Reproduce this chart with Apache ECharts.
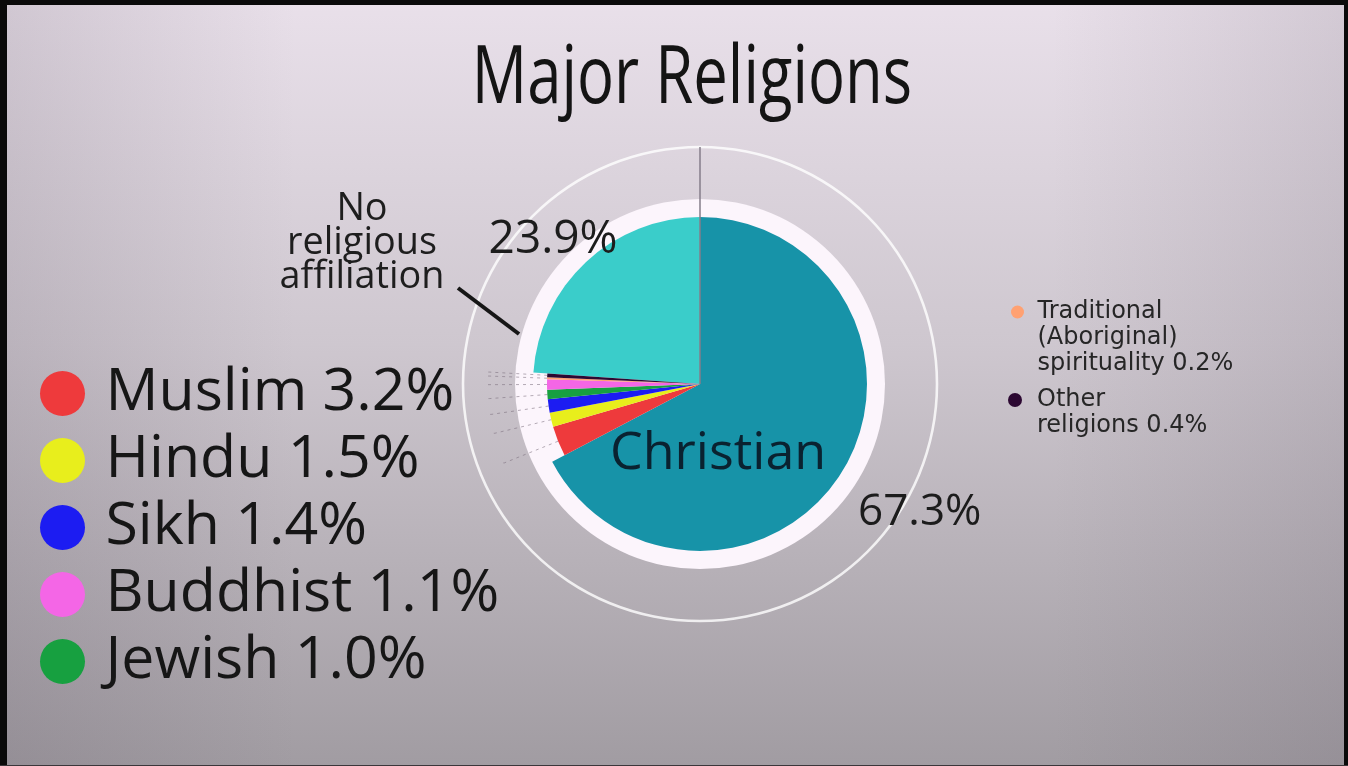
<!DOCTYPE html>
<html><head><meta charset="utf-8">
<script src="https://cdn.jsdelivr.net/npm/echarts@6/dist/echarts.min.js"></script>
<style>html,body{margin:0;padding:0;overflow:hidden;}#c{width:1348px;height:766px;}</style>
</head><body><div id="c"></div>
<script>
// ---- data ----
const categories = ['Christian','Muslim','Hindu','Sikh','Jewish','Buddhist','Traditional (Aboriginal) spirituality','Other religions','No religious affiliation'];
const shares = [67.3, 3.2, 1.5, 1.4, 1.0, 1.1, 0.2, 0.4, 23.9];
const colors = ['#1793a8','#ee3a3c','#e8ee1c','#1c1cf2','#17a040','#f466e6','#ffa172','#2c0832','#3acdca'];
const bigCategories = ['Christian','No religious affiliation'];
const leftLegendNames = ['Muslim','Hindu','Sikh','Buddhist','Jewish'];
const rightLegendNames = ['Traditional (Aboriginal) spirituality','Other religions'];
const rightLegendLines = {'Traditional (Aboriginal) spirituality':'Traditional\n(Aboriginal)\nspirituality','Other religions':'Other\nreligions'};
const titleText = 'Major Religions';
const annotationText = 'No\nreligious\naffiliation';

// ---- layout ----
const CX = 700, CY = 384, R_MAIN = 167, R_SMALL = 153, R_DISK = 185, R_RING = 237;
const TRANSPARENT = 'rgba(0,0,0,0)';
const shareOf = n => shares[categories.indexOf(n)];
const pct = v => v.toFixed(1) + '%';
const isBig = n => bigCategories.includes(n);

const chart = echarts.init(document.getElementById('c'), null, {renderer:'canvas'});

const common = {
  type:'pie', center:[CX, CY], startAngle:90, clockwise:true,
  avoidLabelOverlap:false, silent:true, animation:false,
  emphasis:{disabled:true}
};

const smallData = categories.map((n,i)=>({
  name:n, value:shares[i],
  itemStyle:{color: isBig(n) ? TRANSPARENT : colors[i], borderWidth:0},
  label:{show:!isBig(n)},
  labelLine:{show:!isBig(n)}
}));

const mainData = categories.map((n,i)=>({
  name:n, value:shares[i],
  itemStyle:{color: isBig(n) ? colors[i] : TRANSPARENT, borderWidth:0},
  label: n === 'Christian'
    ? {show:true, position:'inside', formatter:'{b}', fontFamily:'Open Sans', fontSize:52, color:'#0a2230', offset:[-56,25]}
    : {show:false},
  labelLine:{show:false}
}));

const pctOffsets = {'Christian':[43,22], 'No religious affiliation':[-6,7]};
const pctSizes = {'Christian':44, 'No religious affiliation':46};
const labelData = categories.map((n,i)=>({
  name:n, value:shares[i],
  itemStyle:{color:TRANSPARENT, borderWidth:0},
  label: isBig(n)
    ? {show:true, position:'inside', formatter: p => pct(p.value), fontFamily:'Open Sans', fontSize:pctSizes[n], color:'#1c1c1c', offset:pctOffsets[n]}
    : {show:false},
  labelLine:{show:false}
}));

// leading blank lines put the first real line level with the legend marker
const rightLegendText = (n, lead) => '\n'.repeat(lead) + rightLegendLines[n] + ' ' + pct(shareOf(n));
const rightTextStyle = {fontFamily:'DejaVu Sans', fontSize:24, lineHeight:26, color:'#262626'};

const option = {
  backgroundColor:{type:'linear', x:0, y:0, x2:0, y2:1, colorStops:[
    {offset:0, color:'#e9e0ea'}, {offset:0.45, color:'#cec7cf'}, {offset:1, color:'#a19ca2'}]},
  legend:[
    {
      data:leftLegendNames, orient:'vertical', left:40, top:364, padding:0,
      icon:'circle', itemWidth:76, itemHeight:45, itemGap:8, selectedMode:false,
      formatter: n => n + ' ' + pct(shareOf(n)),
      textStyle:{fontFamily:'Open Sans', fontSize:59, lineHeight:57, color:'#161616'}
    },
    {
      data:[rightLegendNames[0]], orient:'vertical', left:1011, top:247, padding:0,
      icon:'circle', itemWidth:30, itemHeight:13, selectedMode:false,
      formatter: n => rightLegendText(n, 2),
      textStyle:rightTextStyle
    },
    {
      data:[rightLegendNames[1]], orient:'vertical', left:1008, top:361, padding:0,
      icon:'circle', itemWidth:34, itemHeight:14, selectedMode:false,
      formatter: n => rightLegendText(n, 1),
      textStyle:rightTextStyle
    }
  ],
  series:[
    Object.assign({}, common, {
      name:'ring', radius:[R_RING-1.3, R_RING+1.3], z:1,
      data:[{name:'ring', value:1, itemStyle:{color:'rgba(255,255,255,0.8)', borderWidth:0}}],
      label:{show:false}, labelLine:{show:false}
    }),
    Object.assign({}, common, {
      name:'disk', radius:[0, R_DISK], z:1,
      data:[{name:'disk', value:1, itemStyle:{color:'#fcf5fc', borderWidth:0}}],
      label:{show:false}, labelLine:{show:false}
    }),
    Object.assign({}, common, {
      name:'small', radius:[0, R_SMALL], z:3,
      data:smallData,
      label:{position:'outside', formatter:' ', fontSize:4, color:TRANSPARENT},
      labelLine:{length:58, length2:4, smooth:false, lineStyle:{color:'rgba(120,108,122,0.55)', width:1, type:[3,4]}}
    }),
    Object.assign({}, common, {
      name:'main', radius:[0, R_MAIN], z:2,
      data:mainData
    }),
    Object.assign({}, common, {
      name:'labels', radius:[R_MAIN, 240], z:4,
      data:labelData
    })
  ],
  graphic:[
    {type:'rect', z:-1, silent:true, shape:{x:0,y:0,width:1348,height:766},
      style:{fill:{type:'linear', x:0,y:0,x2:1,y2:0, colorStops:[
        {offset:0, color:'rgba(80,70,85,0.16)'}, {offset:0.22, color:'rgba(80,70,85,0)'},
        {offset:0.78, color:'rgba(80,70,85,0)'}, {offset:1, color:'rgba(80,70,85,0.14)'}]}}},
    {type:'text', z:50, silent:true, x:692, y:80, scaleX:0.77,
      style:{text:titleText, font:'80px "Open Sans"', fill:'#141414', align:'center', verticalAlign:'middle'}},
    {type:'line', z:50, silent:true, shape:{x1:CX, y1:CY-R_RING, x2:CX, y2:CY},
      style:{stroke:'#857c8a', lineWidth:1.5}},
    {type:'text', z:50, silent:true, x:362, y:243, scaleX:0.97,
      style:{text:annotationText, font:'39px "Open Sans"', fill:'#1e1e1e', align:'center', verticalAlign:'middle', lineHeight:34}},
    {type:'line', z:50, silent:true, shape:{x1:458, y1:288, x2:519, y2:334},
      style:{stroke:'#161616', lineWidth:4}},
    {type:'rect', z:60, silent:true, shape:{x:0,y:0,width:1348,height:5}, style:{fill:'#0a0a0a'}},
    {type:'rect', z:60, silent:true, shape:{x:0,y:0,width:7,height:766}, style:{fill:'#0a0a0a'}},
    {type:'rect', z:60, silent:true, shape:{x:1344,y:0,width:4,height:766}, style:{fill:'#0a0a0a'}},
    {type:'rect', z:60, silent:true, shape:{x:0,y:765,width:1348,height:1}, style:{fill:'#3a363a'}}
  ]
};
chart.setOption(option);
</script>
</body></html>
